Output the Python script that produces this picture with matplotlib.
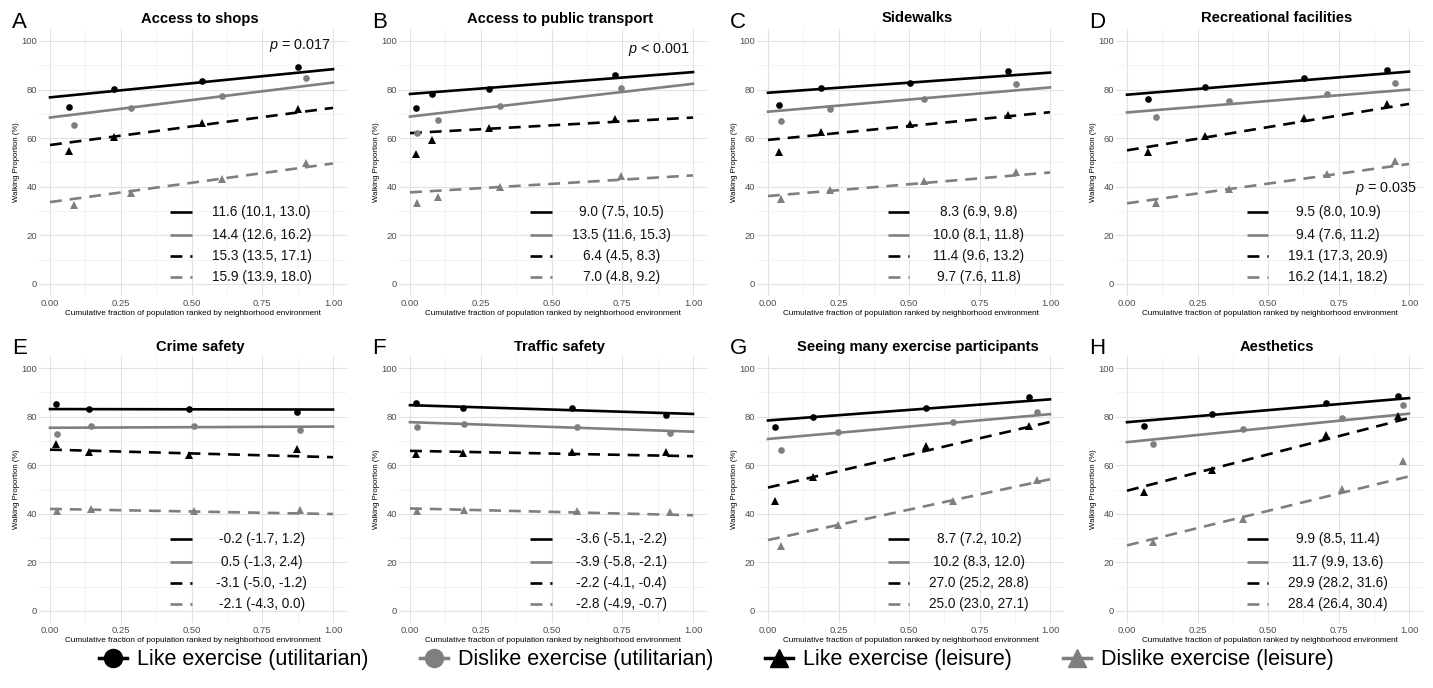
import matplotlib
matplotlib.use("Agg")
import matplotlib.pyplot as plt
from matplotlib.lines import Line2D
import numpy as np

plt.rcParams['font.family'] = ['Liberation Sans', 'DejaVu Sans']
plt.rcParams['mathtext.fontset'] = 'custom'
plt.rcParams['mathtext.it'] = 'Liberation Sans:italic'
plt.rcParams['mathtext.rm'] = 'Liberation Sans'

# ---------------- data ----------------
panel_letters = ["A", "B", "C", "D", "E", "F", "G", "H"]
panel_titles = ["Access to shops", "Access to public transport", "Sidewalks",
                "Recreational facilities", "Crime safety", "Traffic safety",
                "Seeing many exercise participants", "Aesthetics"]

# cumulative-fraction midpoints for the four quartile groups
x_like = [[0.067, 0.225, 0.536, 0.876],
          [0.021, 0.078, 0.280, 0.724],
          [0.038, 0.187, 0.503, 0.852],
          [0.075, 0.277, 0.627, 0.923],
          [0.021, 0.139, 0.490, 0.872],
          [0.021, 0.186, 0.573, 0.904],
          [0.024, 0.160, 0.562, 0.925],
          [0.059, 0.303, 0.707, 0.960]]
x_dislike = [[0.085, 0.286, 0.609, 0.906],
             [0.026, 0.098, 0.318, 0.747],
             [0.047, 0.221, 0.553, 0.879],
             [0.103, 0.360, 0.708, 0.952],
             [0.024, 0.144, 0.509, 0.883],
             [0.025, 0.190, 0.589, 0.918],
             [0.045, 0.249, 0.657, 0.954],
             [0.091, 0.410, 0.761, 0.980]]

like_util = [[72.8, 80.1, 83.5, 89.4],
             [72.3, 78.1, 80.4, 86.1],
             [73.7, 80.5, 82.9, 87.7],
             [76.0, 80.9, 84.8, 88.1],
             [85.3, 83.1, 83.1, 82.0],
             [85.8, 83.5, 83.4, 80.7],
             [75.7, 79.8, 83.5, 88.2],
             [76.2, 81.0, 85.4, 88.4]]
dislike_util = [[65.6, 72.3, 77.5, 84.8],
                [62.3, 67.6, 73.1, 80.5],
                [67.2, 72.2, 76.0, 82.2],
                [68.6, 75.2, 78.1, 82.6],
                [73.0, 76.2, 76.2, 74.5],
                [75.9, 77.1, 75.8, 73.1],
                [66.3, 73.6, 77.6, 81.8],
                [68.8, 74.8, 79.6, 84.6]]
like_leis = [[54.9, 60.6, 66.4, 72.0],
             [53.4, 59.4, 64.1, 67.8],
             [54.2, 62.6, 65.8, 69.7],
             [54.5, 60.9, 68.2, 74.1],
             [68.8, 65.5, 64.2, 66.7],
             [64.8, 65.2, 65.6, 65.6],
             [45.3, 55.3, 67.9, 76.2],
             [49.1, 58.2, 72.5, 80.1]]
dislike_leis = [[32.6, 37.6, 43.2, 49.8],
                [33.5, 35.9, 40.1, 44.4],
                [34.8, 38.7, 42.2, 46.0],
                [33.5, 39.1, 45.1, 50.6],
                [41.3, 41.8, 41.3, 41.5],
                [41.3, 41.6, 41.3, 40.7],
                [26.7, 35.4, 45.3, 53.9],
                [28.3, 37.7, 50.3, 61.9]]

# fitted line value at x = 0 (order: like util, dislike util, like leis, dislike leis)
line_intercepts = [[76.8, 68.5, 57.2, 33.7],
                   [78.2, 68.9, 62.1, 37.7],
                   [78.7, 70.9, 59.3, 36.2],
                   [77.9, 70.6, 55.0, 33.2],
                   [83.1, 75.4, 66.4, 42.0],
                   [84.7, 77.7, 65.9, 42.2],
                   [78.4, 70.8, 50.8, 29.2],
                   [77.7, 69.5, 49.5, 27.0]]
# slope index of inequality (estimate, lower, upper)
sii_est = [[11.6, 14.4, 15.3, 15.9],
           [9.0, 13.5, 6.4, 7.0],
           [8.3, 10.0, 11.4, 9.7],
           [9.5, 9.4, 19.1, 16.2],
           [-0.2, 0.5, -3.1, -2.1],
           [-3.6, -3.9, -2.2, -2.8],
           [8.7, 10.2, 27.0, 25.0],
           [9.9, 11.7, 29.9, 28.4]]
sii_lo = [[10.1, 12.6, 13.5, 13.9],
          [7.5, 11.6, 4.5, 4.8],
          [6.9, 8.1, 9.6, 7.6],
          [8.0, 7.6, 17.3, 14.1],
          [-1.7, -1.3, -5.0, -4.3],
          [-5.1, -5.8, -4.1, -4.9],
          [7.2, 8.3, 25.2, 23.0],
          [8.5, 9.9, 28.2, 26.4]]
sii_hi = [[13.0, 16.2, 17.1, 18.0],
          [10.5, 15.3, 8.3, 9.2],
          [9.8, 11.8, 13.2, 11.8],
          [10.9, 11.2, 20.9, 18.2],
          [1.2, 2.4, -1.2, 0.0],
          [-2.2, -2.1, -0.4, -0.7],
          [10.2, 12.0, 28.8, 27.1],
          [11.4, 13.6, 31.6, 30.4]]

p_texts = [r"$p$ = 0.017", r"$p$ < 0.001", None, r"$p$ = 0.035", None, None, None, None]

series_names = ["Like exercise (utilitarian)", "Dislike exercise (utilitarian)",
                "Like exercise (leisure)", "Dislike exercise (leisure)"]

# ---------------- style ----------------
BLACK = "#000000"
GRAY = "#7f7f7f"
series_color = [BLACK, GRAY, BLACK, GRAY]
series_marker = ["o", "o", "^", "^"]
series_ls = ["-", "-", (0, (4.5, 3)), (0, (4.5, 3))]

W, H = 1433, 688
fig = plt.figure(figsize=(W / 100, H / 100), dpi=100)

# pixel positions of x=0 and x=1 for each column, and y=100 / y=0 for each row
col_zero = [50, 410, 768, 1127]
col_one = [333, 693, 1050, 1409]
row_top = [41, 368]
row_bot = [284, 611]
LPAD, RPAD = 11, 14

xlab = "Cumulative fraction of population ranked by neighborhood environment"

for i in range(8):
    r, c = divmod(i, 4)
    z, o = col_zero[c], col_one[c]
    ppu = o - z
    l, rr = z - LPAD, o + RPAD
    yppu = (row_bot[r] - row_top[r]) / 100.0
    t, b = row_top[r] - 5 * yppu, row_bot[r] + 5 * yppu
    ax = fig.add_axes([l / W, 1 - b / H, (rr - l) / W, (b - t) / H])
    xmin, xmax = -LPAD / ppu, 1 + RPAD / ppu
    ax.set_xlim(xmin, xmax)
    ax.set_ylim(-5, 105)
    ax.set_xticks([0, 0.25, 0.5, 0.75, 1.0])
    ax.set_xticklabels(["0.00", "0.25", "0.50", "0.75", "1.00"])
    ax.set_yticks([0, 20, 40, 60, 80, 100])
    ax.set_xticks([0.125, 0.375, 0.625, 0.875], minor=True)
    ax.set_yticks([10, 30, 50, 70, 90], minor=True)
    ax.grid(which="major", color="#e2e2e2", lw=0.8)
    ax.grid(which="minor", color="#efefef", lw=0.5)
    ax.set_axisbelow(True)
    for s in ax.spines.values():
        s.set_visible(False)
    ax.tick_params(which="both", length=0, labelsize=6.8, labelcolor="#4d4d4d")
    ax.tick_params(axis="x", pad=2.3)
    ax.tick_params(axis="y", pad=1.5)
    ax.set_xlabel(xlab, fontsize=5.9, labelpad=1.5)
    ax.set_ylabel("Walking Proportion (%)", fontsize=5.6, labelpad=1.0)

    xs = [x_like[i], x_dislike[i], x_like[i], x_dislike[i]]
    ys = [like_util[i], dislike_util[i], like_leis[i], dislike_leis[i]]
    xl = np.array([0.0, 1.0])
    for k in range(4):
        ax.plot(xl, line_intercepts[i][k] + sii_est[i][k] * xl, color=series_color[k],
                ls=series_ls[k], lw=1.9, zorder=2)
        ax.plot(xs[k], ys[k], ls="none", marker=series_marker[k], color=series_color[k],
                markersize=4.8 if series_marker[k] == "o" else 5.4, markeredgewidth=0, zorder=3)

    # inset legend of SII estimates
    def fx(v):
        return (v - xmin) / (xmax - xmin)
    leg_y = [0.315, 0.23, 0.149, 0.07]
    for k in range(4):
        ax.plot([fx(0.424), fx(0.50)], [leg_y[k]] * 2, transform=ax.transAxes,
                color=series_color[k], ls=series_ls[k], lw=1.9,
                solid_capstyle="butt", dash_capstyle="butt")
        ax.text(fx(0.748), leg_y[k],
                f"{sii_est[i][k]:.1f} ({sii_lo[i][k]:.1f}, {sii_hi[i][k]:.1f})",
                transform=ax.transAxes, ha="center", va="center", fontsize=9.8, color="#111111")

    if p_texts[i]:
        if i == 3:
            ax.text(1.03, 39.4, p_texts[i], ha="right", va="center", fontsize=10.4, color="#111111")
        elif i == 1:
            ax.text(0.988, 96.6, p_texts[i], ha="right", va="center", fontsize=10.4, color="#111111")
        else:
            ax.text(0.994, 98.0, p_texts[i], ha="right", va="center", fontsize=10.4, color="#111111")

    # title and panel letter
    title_y = [18.5, 347][r]
    fig.text(((l + rr) / 2 + 7) / W, 1 - title_y / H, panel_titles[i], ha="center", va="center",
             fontsize=10.6, fontweight="bold")
    letter_y = [22, 349][r]
    fig.text((z - 38) / W, 1 - letter_y / H, panel_letters[i], ha="left", va="center", fontsize=16)

handles = [Line2D([0], [0], color=series_color[k], marker=series_marker[k], lw=2.5,
                  markersize=13, ls="-") for k in range(4)]
fig.legend(handles, series_names, loc="center", bbox_to_anchor=(0.5, 1 - 660 / H), ncol=4,
           frameon=False, fontsize=15.5, handlelength=1.3, handletextpad=0.45, columnspacing=2.4)

fig.savefig("out.png", dpi=100)
